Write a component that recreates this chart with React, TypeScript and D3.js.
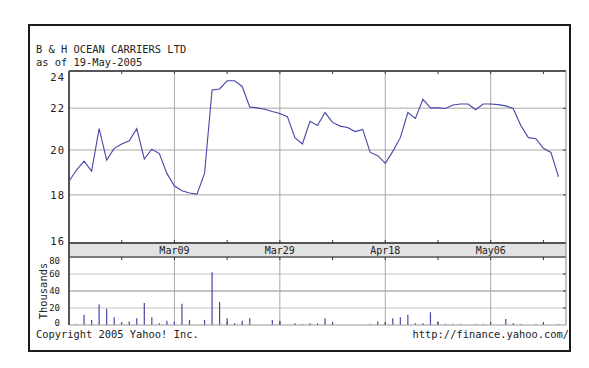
import React from "react";
import * as d3 from "d3";

const title = "B & H OCEAN CARRIERS LTD";
const subtitle = "as of 19-May-2005";
const prices: number[] = [
  18.59, 19.09, 19.49, 19.04, 21.01, 19.54, 20.08, 20.28, 20.43, 21.01,
  19.59, 20.04, 19.84, 18.94, 18.38, 18.18, 18.08, 18.03, 18.94, 22.92,
  22.97, 23.39, 23.39, 23.1, 22.07, 22.02, 21.95, 21.84, 21.74, 21.59,
  20.58, 20.28, 21.36, 21.16, 21.79, 21.31, 21.13, 21.06, 20.87, 20.97,
  19.89, 19.74, 19.39, 19.94, 20.58, 21.79, 21.5, 22.45, 22.02, 22.02,
  21.99, 22.16, 22.21, 22.21, 21.93, 22.21, 22.21, 22.18, 22.12, 21.98,
  21.16, 20.58, 20.53, 20.08, 19.89, 18.79,
];
const volumes: number[] = [
  2, 1, 12, 6, 24, 19, 9, 1, 4, 8,
  26, 9, 2, 5, 4, 25, 6, 0, 6, 62,
  27, 8, 2, 5, 8, 0, 0, 6, 5, 0,
  2, 1, 2, 2, 8, 1, 0, 0, 0, 0,
  1, 4, 2, 8, 9, 12, 2, 2, 15, 4,
  1, 1, 1, 0, 1, 1, 1, 0, 7, 2,
  1, 0, 1, 1, 0, 1,
];
const dateLabels = ["Mar09", "Mar29", "Apr18", "May06"];
const dateIndex = [14, 28, 42, 56];
const minorIndex = [7, 21, 35, 49, 63];
const priceTicks = [24, 22, 20, 18, 16];
const volumeTicks = [80, 60, 40, 20, 0];
const copyright = "Copyright 2005 Yahoo! Inc.";
const url = "http://finance.yahoo.com/";

export default function App() {
  const L = 69, R = 566;
  const pTop = 71, pBot = 243;
  const bandBot = 257;
  const vTop = 257, vBot = 325;
  const x = d3.scaleLinear().domain([0, 66]).range([L, R]);
  const y = d3.scalePow().exponent(0.3).domain([16, 24]).range([243.3, 69.1]);
  const yv = d3.scaleLinear().domain([0, 80]).range([vBot, vTop]);
  const line = d3
    .line<number>()
    .x((_, i) => x(i))
    .y((d) => y(d));
  const mono = "'DejaVu Sans Mono', 'Liberation Mono', monospace";
  const lineColor = "#4646a8";
  const dark = "#555";
  const grid = "#c4c4c4";
  const major = "#a8a8a8";
  return (
    <svg
      width={589}
      height={368}
      style={{ position: "absolute", left: 0, top: 0, background: "#fff" }}
      fontFamily={mono}
    >
      <rect x={0} y={0} width={589} height={368} fill="#fff" />
      <rect x={29} y={25} width={541} height={326} fill="#fff" stroke="#1a1a1a" strokeWidth={2} />
      <text x={36} y={52.5} fontSize={10.4} fill="#222">{title}</text>
      <text x={36} y={65.5} fontSize={10.4} fill="#222">{subtitle}</text>

      {/* price horizontal grid */}
      {priceTicks.slice(1, 4).map((t) => (
        <line key={"pg" + t} x1={L} x2={R} y1={y(t)} y2={y(t)} stroke={grid} strokeWidth={1.5} />
      ))}
      {/* volume horizontal grid */}
      {volumeTicks.slice(1, 4).map((t) => (
        <line key={"vg" + t} x1={L} x2={R} y1={yv(t)} y2={yv(t)} stroke={grid} strokeWidth={t === 40 ? 2 : 1.2} />
      ))}
      {/* major vertical grid */}
      {dateIndex.map((i) => (
        <line key={"mg" + i} x1={x(i)} x2={x(i)} y1={pTop} y2={vBot} stroke={major} strokeWidth={1} />
      ))}

      {/* date band */}
      <rect x={L} y={pBot} width={R - L} height={bandBot - pBot} fill="#e2e2e2" />
      <line x1={L} x2={R} y1={pBot} y2={pBot} stroke={dark} strokeWidth={2} />
      <line x1={L} x2={R} y1={bandBot} y2={bandBot} stroke={dark} strokeWidth={1.5} />
      {dateIndex.map((i, k) => (
        <text key={"dl" + i} x={x(i)} y={254} fontSize={10} textAnchor="middle" fill="#222">
          {dateLabels[k]}
        </text>
      ))}

      {/* ticks */}
      {[...dateIndex, ...minorIndex].map((i) => (
        <g key={"tk" + i} stroke="#333" strokeWidth={1}>
          <line x1={x(i)} x2={x(i)} y1={pTop} y2={pTop + 3} />
          <line x1={x(i)} x2={x(i)} y1={pBot - 3} y2={pBot} />
          <line x1={x(i)} x2={x(i)} y1={vTop} y2={vTop + 3} />
          <line x1={x(i)} x2={x(i)} y1={vBot - 3} y2={vBot} />
        </g>
      ))}
      {priceTicks.slice(1, 4).map((t) => (
        <line key={"rt" + t} x1={R - 3} x2={R} y1={y(t)} y2={y(t)} stroke="#333" />
      ))}
      {volumeTicks.slice(1, 4).map((t) => (
        <line key={"rv" + t} x1={R - 3} x2={R} y1={yv(t)} y2={yv(t)} stroke="#333" />
      ))}

      {/* volume bars */}
      {volumes.map((v, i) =>
        v > 0 ? (
          <line key={"vb" + i} x1={x(i)} x2={x(i)} y1={yv(0)} y2={yv(v)} stroke={lineColor} strokeWidth={1.2} />
        ) : null
      )}

      {/* price line */}
      <path d={line(prices) || ""} fill="none" stroke={lineColor} strokeWidth={1.1} />

      {/* borders */}
      <line x1={L} x2={R} y1={pTop} y2={pTop} stroke={dark} strokeWidth={2} />
      <line x1={L} x2={L} y1={pTop} y2={vBot} stroke={dark} strokeWidth={2} />
      <line x1={R} x2={R} y1={pTop} y2={vBot} stroke="#888" strokeWidth={1} />
      <line x1={L} x2={R} y1={vBot} y2={vBot} stroke="#999" strokeWidth={1} />

      {/* y labels */}
      {priceTicks.map((t) => {
        const yy = Math.min(Math.max(y(t), pTop + 6), pBot - 1.5);
        return (
          <text key={"pl" + t} x={65} y={yy} dy="0.35em" fontSize={10.5} letterSpacing={1} textAnchor="end" fill="#222">
            {t}
          </text>
        );
      })}
      {volumeTicks.map((t) => {
        const yy = Math.min(Math.max(yv(t), vTop + 4), vBot - 1.8);
        return (
          <text key={"vl" + t} x={60} y={yy} dy="0.35em" fontSize={9} textAnchor="end" fill="#222">
            {t}
          </text>
        );
      })}
      <text
        transform={`translate(47, 291) rotate(-90)`}
        fontSize={10.4}
        textAnchor="middle"
        fill="#222"
      >
        Thousands
      </text>
      <text x={36} y={338} fontSize={10.4} fill="#222">{copyright}</text>
      <text x={569} y={338} fontSize={10.4} textAnchor="end" fill="#222">{url}</text>
    </svg>
  );
}
